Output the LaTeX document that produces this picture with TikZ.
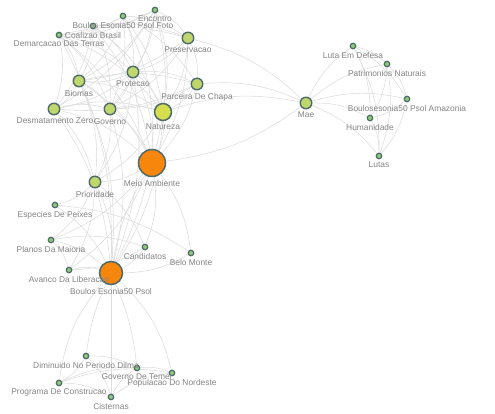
\documentclass[tikz,border=0pt]{standalone}
\usepackage{fontspec}
\setmainfont{Liberation Sans}
\definecolor{edgec}{HTML}{DDDDDD}
\definecolor{bordc}{HTML}{4E6A6A}
\definecolor{medc}{HTML}{BFD76B}
\definecolor{natc}{HTML}{D5DF4E}
\definecolor{smc}{HTML}{8CCB78}
\definecolor{orc}{HTML}{F7860C}
\definecolor{lblc}{HTML}{858585}
\pgfdeclarelayer{back}
\pgfdeclarelayer{bg}
\pgfsetlayers{back,bg,main}
\tikzset{
  lbl/.style={text=lblc,font=\fontsize{8.4}{9}\selectfont,inner sep=0pt},
  sm/.style={circle,draw=bordc,line width=1.2pt,fill=smc,inner sep=0pt,minimum size=5.5pt},
  md/.style={circle,draw=bordc,line width=1.4pt,fill=medc,inner sep=0pt,minimum size=11.5pt},
  big/.style={circle,draw=bordc,line width=1.5pt,fill=orc,inner sep=0pt},
  edge/.style={draw=edgec,line width=0.55pt},
}
\newcommand{\lab}[3]{\node[lbl,anchor=north] (#1-l) at ([yshift=-#3pt]#1.south) {#2};}
\begin{document}
\begin{tikzpicture}[x=1pt,y=-1pt]
\begin{pgfonlayer}{back}
\fill[white] (0,0) rectangle (495,414);
\end{pgfonlayer}
\useasboundingbox (0,0) rectangle (495,414);
% nodes
\node[sm] (E) at (155,10) {};
\node[sm] (BF) at (123,16) {};
\node[sm] (CB) at (93,26) {};
\node[sm] (DT) at (59,35) {};
\node[md] (PR) at (188,38) {};
\node[md] (PT) at (133,72) {};
\node[md] (BI) at (79,81) {};
\node[md] (PC) at (197,84) {};
\node[md] (DZ) at (54,109) {};
\node[md] (GO) at (110,109) {};
\node[circle,draw=bordc,line width=1.5pt,fill=natc,inner sep=0pt,minimum size=17pt] (NA) at (163,112) {};
\node[big,minimum size=27pt] (MA) at (152,163) {};
\node[md] (PI) at (95,182) {};
\node[sm] (ES) at (55,205) {};
\node[sm] (PL) at (51,240) {};
\node[sm] (CA) at (145,247) {};
\node[sm] (BM) at (191,253) {};
\node[sm] (AV) at (69,270) {};
\node[big,minimum size=23pt] (BP) at (111,273) {};
\node[md] (MAE) at (306,103) {};
\node[sm] (LD) at (353,46) {};
\node[sm] (PN) at (387,64) {};
\node[sm] (AM) at (407,99) {};
\node[sm] (HU) at (370,118) {};
\node[sm] (LU) at (379,156) {};
\node[sm] (DI) at (86,356) {};
\node[sm] (GT) at (137,368) {};
\node[sm] (PO) at (172,373) {};
\node[sm] (PG) at (59,383) {};
\node[sm] (CI) at (111,397) {};
% labels
\lab{E}{Encontro}{2.5}
\lab{BF}{Boulos Esonia50 Psol Foto}{2.5}
\lab{CB}{Coalizao Brasil}{2.5}
\lab{DT}{Demarcacao Das Terras}{2.5}
\lab{PR}{Preservacao}{2.5}
\lab{PT}{Protecao}{2.5}
\lab{BI}{Biomas}{2.5}
\lab{PC}{Parceira De Chapa}{2.5}
\node[lbl,anchor=north] (DZ-l) at ([xshift=1pt,yshift=-2.5pt]DZ.south) {Desmatamento Zero};
\lab{GO}{Governo}{2.5}
\lab{NA}{Natureza}{2.5}
\lab{MA}{Meio Ambiente}{2.5}
\lab{PI}{Prioridade}{2.5}
\lab{ES}{Especies De Peixes}{2.5}
\lab{PL}{Planos Da Maioria}{2.5}
\lab{CA}{Candidatos}{2.5}
\lab{BM}{Belo Monte}{2.5}
\lab{AV}{Avanco Da Liberacao}{2.5}
\lab{BP}{Boulos Esonia50 Psol}{3}
\lab{MAE}{Mae}{2.5}
\lab{LD}{Luta Em Defesa}{2.5}
\lab{PN}{Patrimonios Naturais}{2.5}
\lab{AM}{Boulosesonia50 Psol Amazonia}{2.5}
\lab{HU}{Humanidade}{2.5}
\lab{LU}{Lutas}{2.5}
\lab{DI}{Diminuido No Periodo Dilma}{2.5}
\lab{GT}{Governo De Temer}{2.5}
\lab{PO}{Populacao Do Nordeste}{2.5}
\lab{PG}{Programa De Construcao}{2.5}
\lab{CI}{Cisternas}{2.5}
% edges
\begin{pgfonlayer}{bg}
\foreach \a/\b in {E/BF,E/CB,E/DT,E/PT,E/BI,E/NA,E/MA,E/GO,E/PR,E/DZ,
  BF/CB,BF/DT,BF/PR,BF/PT,BF/BI,BF/GO,BF/NA,BF/MA,BF/PC,
  CB/DT,CB/PR,CB/BI,CB/PT,CB/GO,CB/NA,CB/MA,CB/DZ,
  DT/BI,DT/PT,DT/DZ,DT/GO,DT/NA,DT/MA,DT/PR,DT/BP,
  PR/PT,PR/PC,PR/NA,PR/MA,PR/BI,PR/GO,PR/MAE,
  PT/BI,PT/PC,PT/NA,PT/GO,PT/MA,PT/DZ,PT/PI,PT/BP,
  BI/DZ,BI/GO,BI/NA,BI/MA,BI/PC,BI/PI,BI/BP,
  PC/NA,PC/MA,PC/GO,PC/DZ,PC/MAE,
  DZ/GO,DZ/NA,DZ/MA,DZ/PI,DZ/BP,
  GO/NA,GO/MA,GO/PI,GO/BP,
  NA/MA,NA/MAE,NA/PI,NA/BP,
  MA/PI,MA/BM,MA/CA,MA/PL,MA/AV,
  PI/BP,PI/ES,PI/PL,PI/AV,PI/CA,
  ES/BM,ES/BP,PL/CA,PL/BP,PL/AV,CA/BP,CA/AV,BM/BP,AV/BP,
  DI/GT,DI/PG,DI/CI,PG/GT,PG/PO,PG/CI,CI/GT,CI/PO,GT/PO,
  MAE/LD,MAE/PN,MAE/AM,MAE/HU,MAE/LU,
  LD/PN,LD/AM,LD/HU,LD/LU,PN/HU,PN/LU,PN/AM,AM/HU,AM/LU,HU/LU}
  {\draw[edge] (\a) to[bend left=14] (\b);}
\draw[edge] (MA) to[bend right=14] (MAE);
\draw[edge] (MA) to[bend left=6] (BP);
\draw[edge] (MA) to[bend right=10] (BP);
\draw[edge] (BP) to[bend right=16] (PG);
\draw[edge] (BP) to[bend right=8] (DI);
\draw[edge] (BP) -- (CI);
\draw[edge] (BP) to[bend left=8] (GT);
\draw[edge] (BP) to[bend left=16] (PO);
\end{pgfonlayer}
\end{tikzpicture}
\end{document}
